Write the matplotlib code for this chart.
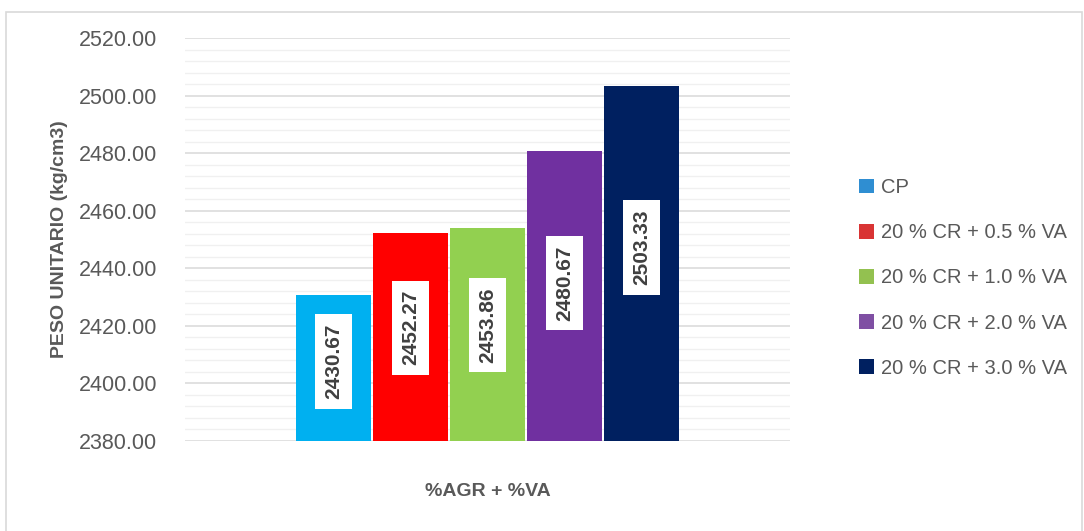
import matplotlib
matplotlib.use("Agg")
import matplotlib.pyplot as plt
from matplotlib.patches import Rectangle
from matplotlib.ticker import MultipleLocator, FormatStrFormatter
import numpy as np

series = ["CP", "20 % CR + 0.5 % VA", "20 % CR + 1.0 % VA",
          "20 % CR + 2.0 % VA", "20 % CR + 3.0 % VA"]
values = [2430.67, 2452.27, 2453.86, 2480.67, 2503.33]
bar_colors = ["#00B0F0", "#FF0000", "#92D050", "#7030A0", "#002060"]
legend_colors = ["#2F8ED2", "#D93434", "#93C150", "#7F4FA3", "#002060"]

plt.rcParams["font.family"] = ["Liberation Sans", "DejaVu Sans"]

fig = plt.figure(figsize=(10.84, 5.31), dpi=100)
fig.patches.append(Rectangle((6 / 1084, -0.01), 1076 / 1084, 1 - 12 / 531 + 0.01,
                             transform=fig.transFigure, fill=False,
                             edgecolor="#D9D9D9", linewidth=1.2))

ax = fig.add_axes([185 / 1084, 1 - 441 / 531, 605 / 1084, 403 / 531])
ymin = 2380
x = np.arange(len(values))
bars = ax.bar(x, np.array(values) - ymin, bottom=ymin, width=0.975,
              color=bar_colors, edgecolor="none", zorder=3)

ax.set_xlim(2 - 3.93, 2 + 3.93)
ax.set_ylim(2380, 2520)
ax.yaxis.set_major_locator(MultipleLocator(20))
ax.yaxis.set_minor_locator(MultipleLocator(4))
ax.yaxis.set_major_formatter(FormatStrFormatter("%.2f"))
ax.grid(axis="y", which="major", color="#D9D9D9", linewidth=1.1, zorder=0)
ax.grid(axis="y", which="minor", color="#F0F0F0", linewidth=1.0, zorder=0)
ax.set_xticks([])
for s in ax.spines.values():
    s.set_visible(False)
ax.tick_params(axis="y", which="both", length=0, labelsize=15.5,
               labelcolor="#595959", pad=20)

for xi, v in zip(x, values):
    ax.text(xi, ymin + (v - ymin) * 0.545, f"{v:.2f}", rotation=90,
            ha="center", va="center", fontsize=15, fontweight="bold",
            color="#404040", zorder=5,
            bbox=dict(boxstyle="square,pad=0.45", facecolor="white",
                      edgecolor="none"))

ax.set_ylabel("PESO UNITARIO (kg/cm3)", fontsize=14, fontweight="bold",
              color="#595959", labelpad=8)
ax.set_xlabel("%AGR + %VA", fontsize=14, fontweight="bold",
              color="#595959", labelpad=30)

handles = [Rectangle((0, 0), 1, 1, facecolor=c, edgecolor="none")
           for c in legend_colors]
leg = fig.legend(handles, series, loc="upper left",
                 bbox_to_anchor=(841 / 1084, 1 - 160 / 531),
                 frameon=False, fontsize=14.5, labelcolor="#595959",
                 handlelength=0.75, handleheight=0.75, handletextpad=0.35,
                 labelspacing=1.3)

fig.savefig("out.png", dpi=100, facecolor="white")
